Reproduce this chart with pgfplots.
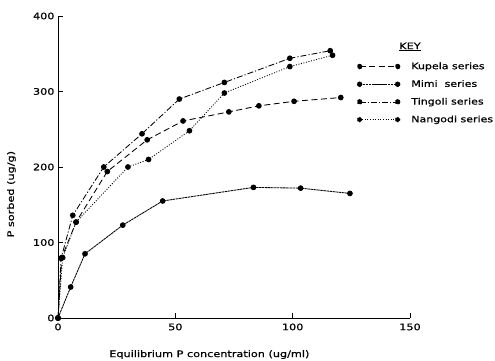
\documentclass[border=0pt]{standalone}
\usepackage{fontspec}
\setmainfont{DejaVu Sans}[FakeStretch=1.25, FakeBold=0.6, BoldFont=*]
\usepackage{pgfplots}
\pgfplotsset{compat=1.18}
\begin{document}
\begin{tikzpicture}
\path[use as bounding box] (-58pt,-43pt) rectangle (437pt,318pt);
\begin{axis}[
  scale only axis, width=352pt, height=302pt,
  xmin=0, xmax=150, ymin=0, ymax=400,
  axis x line=bottom, axis y line=left,
  axis line style={-, line width=0.9pt},
  xtick={0,50,100,150}, ytick={0,100,200,300,400},
  tick align=inside, major tick length=5pt,
  tick style={line width=0.9pt, black},
  /pgf/number format/assume math mode=true,
  tick label style={font=\fontsize{9}{10}\selectfont\bfseries},
  xticklabel style={yshift=-2pt},
  xlabel={Equilibrium P concentration (ug/ml)},
  ylabel={P sorbed (ug/g)},
  label style={font=\fontsize{9}{10}\selectfont\bfseries},
  xlabel style={at={(axis description cs:0.43,-0.095)}, anchor=north},
  ylabel style={at={(axis description cs:-0.11,0.41)}, anchor=south},
  clip=false,
  legend cell align=left,
  legend style={draw=none, fill=none, at={(axis description cs:0.84,0.86)}, anchor=north west,
    font=\fontsize{8.8}{10}\selectfont\bfseries, row sep=5.5pt},
  legend image code/.code={
    \draw[#1,mark=none] (0pt,0pt) -- (38pt,0pt);
    \fill (0pt,0pt) circle (2.3pt);
    \fill (38pt,0pt) circle (2.3pt);
  },
  every axis plot/.append style={black, line width=0.85pt, mark=*, mark size=2.4pt, mark options={solid}},
]
\addplot[dash pattern=on 6pt off 3.5pt] coordinates {
(0,0) (1.6,80) (7.7,127) (21,194) (38,236) (53.3,261) (72.8,273) (85.6,281) (100.6,287) (120.5,292)};
\addlegendentry{\hspace{9pt}Kupela series}
\addplot[dash pattern=on 2.5pt off 0.6pt] coordinates {
(0,0) (5.4,41) (11.5,85) (27.6,123) (44.6,155) (83.3,173) (103.4,172) (124.4,165)};
\addlegendentry{\hspace{9pt}Mimi\ \ series}
\addplot[dash pattern=on 6pt off 2pt on 1.2pt off 2pt] coordinates {
(0,0) (1.3,79) (6.3,136) (19.5,200) (35.8,244) (51.7,290) (70.9,312) (98.8,344) (116,354)};
\addlegendentry{\hspace{9pt}Tingoli series}
\addplot[dash pattern=on 1pt off 1.6pt] coordinates {
(0,0) (2,80) (7.7,127) (29.8,200) (38.6,210) (56,248) (70.9,298) (98.8,333) (117,348)};
\addlegendentry{\hspace{9pt}Nangodi series}
\node[font=\fontsize{9}{10}\selectfont\bfseries, anchor=base] at (axis description cs:1.0,0.89) {\underline{KEY}};
\end{axis}
\end{tikzpicture}
\end{document}
